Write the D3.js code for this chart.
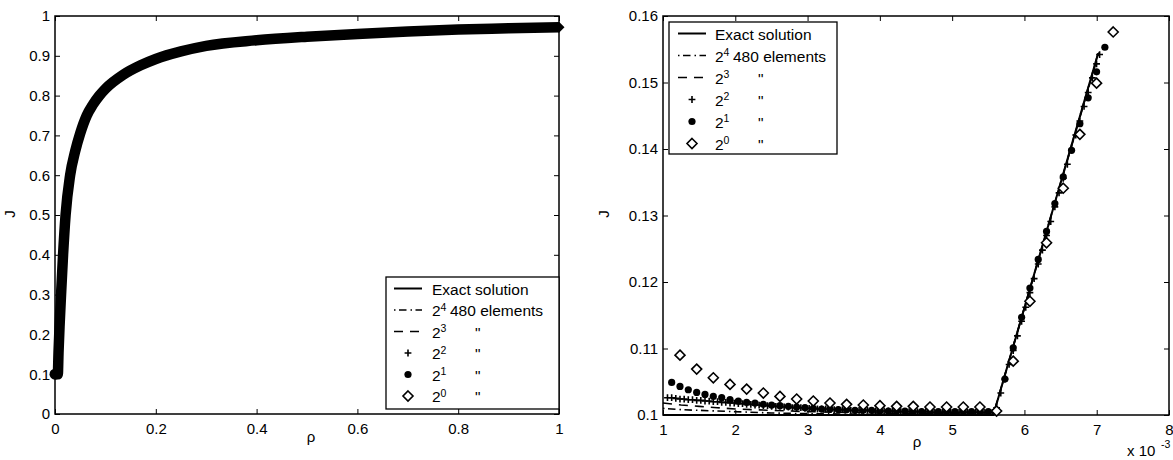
<!DOCTYPE html>
<html>
<head>
<meta charset="utf-8">
<script src="https://cdn.jsdelivr.net/npm/d3@7"></script>
<style>
body{margin:0;background:#fff;}
svg{display:block;font-family:"Liberation Sans",Arial,Helvetica,sans-serif;}
</style>
</head>
<body>
<svg id="chart" width="1173" height="460"></svg>
<script>
// ---------- left panel: rho 0..1 ----------
// all six series overlap here into one thick band, these are points on its centre line
var bandRho = [0, 0.0056, 0.007, 0.009, 0.012, 0.016, 0.021, 0.03, 0.04, 0.05, 0.063, 0.075, 0.088, 0.1, 0.135, 0.17, 0.2, 0.25, 0.3, 0.4, 0.5, 0.6, 0.7, 0.8, 0.9, 1.0];
var bandJ   = [0.1, 0.1, 0.155, 0.22, 0.3, 0.4, 0.5, 0.6, 0.66, 0.705, 0.75, 0.777, 0.8, 0.817, 0.852, 0.876, 0.892, 0.911, 0.925, 0.939, 0.948, 0.955, 0.961, 0.966, 0.969, 0.972];

// ---------- right panel: rho in units of 1e-3 ----------
var exactRho = [1, 5.57, 7.02];
var exactJ   = [0.1, 0.1, 0.1544];

// 2^4, 480 elements (dash-dot)
var e4Rho = [1.0, 1.25, 1.5, 2.0, 2.5, 3.0, 4.0, 5.0, 5.57, 7.02];
var e4J   = [0.1010, 0.1008, 0.1007, 0.1005, 0.1003, 0.1002, 0.1001, 0.1001, 0.1, 0.1544];

// 2^3 (dashed)
var e3Rho = [1.0, 1.25, 1.5, 1.75, 2.0, 2.5, 3.0, 3.5, 4.0, 4.5, 5.0, 5.57, 7.03];
var e3J   = [0.1018, 0.1015, 0.1013, 0.1011, 0.1009, 0.1007, 0.1005, 0.1004, 0.1003, 0.1002, 0.1002, 0.1001, 0.1545];

// 2^2 (plus)
var e2Rho = [1.062, 1.120, 1.177, 1.235, 1.293, 1.350, 1.408, 1.466, 1.523, 1.581, 1.639, 1.696, 1.754, 1.812, 1.869, 1.927, 1.985,
  2.042, 2.100, 2.157, 2.215, 2.273, 2.330, 2.388, 2.446, 2.503, 2.561, 2.618, 2.676, 2.734, 2.791, 2.849, 2.907, 2.964,
  3.022, 3.079, 3.137, 3.195, 3.252, 3.310, 3.368, 3.425, 3.483, 3.540, 3.598, 3.656, 3.713, 3.771, 3.829, 3.886, 3.944,
  4.001, 4.059, 4.117, 4.174, 4.232, 4.290, 4.347, 4.405, 4.462, 4.520, 4.578, 4.635, 4.693, 4.751, 4.808, 4.866, 4.923, 4.981,
  5.039, 5.096, 5.154, 5.212, 5.269, 5.327, 5.384, 5.442, 5.500, 5.557,
  5.615, 5.673, 5.730, 5.788, 5.845, 5.903, 5.961, 6.018, 6.076, 6.134, 6.191, 6.249, 6.306, 6.364, 6.421, 6.479,
  6.537, 6.594, 6.652, 6.710, 6.767, 6.825, 6.882, 6.940, 6.998, 7.040];
var e2J = [0.1026, 0.1026, 0.1025, 0.1024, 0.1024, 0.1023, 0.1023, 0.1022, 0.1022, 0.1021, 0.1021, 0.1020, 0.1020, 0.1019, 0.1019, 0.1018, 0.1018,
  0.1017, 0.1017, 0.1016, 0.1016, 0.1015, 0.1015, 0.1014, 0.1014, 0.1013, 0.1013, 0.1013, 0.1012, 0.1012, 0.1011, 0.1011, 0.1011, 0.1010,
  0.1010, 0.1010, 0.1009, 0.1009, 0.1009, 0.1009, 0.1008, 0.1008, 0.1008, 0.1008, 0.1007, 0.1007, 0.1007, 0.1007, 0.1007, 0.1006, 0.1006,
  0.1006, 0.1006, 0.1006, 0.1006, 0.1005, 0.1005, 0.1005, 0.1005, 0.1005, 0.1005, 0.1005, 0.1005, 0.1004, 0.1004, 0.1004, 0.1004, 0.1004, 0.1004,
  0.1004, 0.1004, 0.1004, 0.1004, 0.1004, 0.1004, 0.1004, 0.1004, 0.1004, 0.1004,
  0.1011, 0.1033, 0.1054, 0.1076, 0.1097, 0.1119, 0.1141, 0.1162, 0.1184, 0.1205, 0.1227, 0.1248, 0.1270, 0.1291, 0.1313, 0.1334,
  0.1356, 0.1377, 0.1399, 0.1421, 0.1442, 0.1464, 0.1485, 0.1507, 0.1528, 0.1542];

// 2^1 (filled circles)
var e1Rho = [1.120, 1.235, 1.350, 1.466, 1.581, 1.696, 1.812, 1.927, 2.042, 2.157, 2.273, 2.388, 2.503, 2.618, 2.734, 2.849, 2.964,
  3.079, 3.195, 3.310, 3.425, 3.540, 3.656, 3.771, 3.886, 4.001, 4.117, 4.232, 4.347, 4.462, 4.578, 4.693, 4.808, 4.923,
  5.039, 5.154, 5.269, 5.384, 5.500, 5.615, 5.730, 5.845, 5.961, 6.076, 6.191, 6.306, 6.421, 6.537, 6.652, 6.767, 6.882, 6.998, 7.113];
var e1J = [0.1049, 0.1043, 0.1038, 0.1034, 0.1031, 0.1028, 0.1026, 0.1023, 0.1021, 0.1019, 0.1018, 0.1016, 0.1015, 0.1014, 0.1013, 0.1012, 0.1011,
  0.1010, 0.1009, 0.1009, 0.1008, 0.1008, 0.1007, 0.1007, 0.1007, 0.1006, 0.1006, 0.1006, 0.1006, 0.1005, 0.1005, 0.1005, 0.1005, 0.1005,
  0.1005, 0.1005, 0.1005, 0.1005, 0.1005, 0.1006, 0.1054, 0.1101, 0.1147, 0.1191, 0.1234, 0.1276, 0.1318, 0.1358, 0.1398, 0.1438, 0.1477, 0.1516, 0.1553];

// 2^0 (open diamonds)
var e0Rho = [1.235, 1.466, 1.696, 1.927, 2.157, 2.388, 2.618, 2.849, 3.079, 3.310, 3.540, 3.771, 4.001, 4.232, 4.462, 4.693, 4.923, 5.154, 5.384,
  5.615, 5.845, 6.076, 6.306, 6.537, 6.767, 6.998, 7.228];
var e0J = [0.1090, 0.1069, 0.1056, 0.1046, 0.1039, 0.1033, 0.1028, 0.1024, 0.1021, 0.1018, 0.1016, 0.1015, 0.1014, 0.1013, 0.1013, 0.1012, 0.1012, 0.1012, 0.1012,
  0.1006, 0.1081, 0.1171, 0.1259, 0.1341, 0.1422, 0.1499, 0.1576];

// ticks
var leftXTicks = [0, 0.2, 0.4, 0.6, 0.8, 1];
var leftXLabels = ["0", "0.2", "0.4", "0.6", "0.8", "1"];
var leftYTicks = [0, 0.1, 0.2, 0.3, 0.4, 0.5, 0.6, 0.7, 0.8, 0.9, 1];
var leftYLabels = ["0", "0.1", "0.2", "0.3", "0.4", "0.5", "0.6", "0.7", "0.8", "0.9", "1"];
var rightXTicks = [1, 2, 3, 4, 5, 6, 7, 8];
var rightXLabels = ["1", "2", "3", "4", "5", "6", "7", "8"];
var rightYTicks = [0.1, 0.11, 0.12, 0.13, 0.14, 0.15, 0.16];
var rightYLabels = ["0.1", "0.11", "0.12", "0.13", "0.14", "0.15", "0.16"];

// legend
var legendExp = [null, "4", "3", "2", "1", "0"];
var legendText = ["Exact solution", "480 elements", "\"", "\"", "\"", "\""];
var legendStyle = ["solid", "dashdot", "dashed", "plus", "circle", "diamond"];


var svg = d3.select("#chart");
var font = 15;

function Panel(opts){
    var self = this;
    self.opts = opts;
    self.init();
};

Panel.prototype.init = function(){
    var self = this;
    var o = self.opts;
    self.g = svg.append("g");
    self.x = d3.scaleLinear().domain(o.xDomain).range([o.left, o.right]);
    self.y = d3.scaleLinear().domain(o.yDomain).range([o.bottom, o.top]);

    //ticks inside on all four sides
    var lab = function(labels){ return function(d, i){ return labels[i]; }; };
    self.g.append("g").attr("transform", "translate(0," + o.bottom + ")")
        .call(d3.axisBottom(self.x).tickValues(o.xTicks).tickFormat(lab(o.xLabels)).tickSizeInner(-5).tickSizeOuter(0).tickPadding(9));
    self.g.append("g").attr("transform", "translate(0," + o.top + ")")
        .call(d3.axisTop(self.x).tickValues(o.xTicks).tickFormat("").tickSizeInner(-5).tickSizeOuter(0));
    self.g.append("g").attr("transform", "translate(" + o.left + ",0)")
        .call(d3.axisLeft(self.y).tickValues(o.yTicks).tickFormat(lab(o.yLabels)).tickSizeInner(-5).tickSizeOuter(0).tickPadding(5));
    self.g.append("g").attr("transform", "translate(" + o.right + ",0)")
        .call(d3.axisRight(self.y).tickValues(o.yTicks).tickFormat("").tickSizeInner(-5).tickSizeOuter(0));
    self.g.selectAll("g").attr("font-family", null).attr("font-size", null);
    self.g.selectAll(".domain").remove();
    self.g.selectAll(".tick line").attr("stroke", "#000").attr("stroke-width", 1);
    self.g.selectAll(".tick text").attr("font-size", font).attr("fill", "#000");

    self.g.append("rect")
        .attr("x", o.left).attr("y", o.top)
        .attr("width", o.right - o.left).attr("height", o.bottom - o.top)
        .attr("fill", "none").attr("stroke", "#000").attr("stroke-width", 1.5);

    self.g.append("text").attr("x", o.xlabX).attr("y", o.xlabY)
        .attr("text-anchor", "middle").attr("font-size", font).text("ρ");
    self.g.append("text")
        .attr("transform", "translate(" + o.ylabX + "," + o.ylabY + ") rotate(-90)")
        .attr("text-anchor", "middle").attr("font-size", font).text("J");
};

Panel.prototype.line = function(xs, ys, dash, width){
    var self = this;
    var pts = xs.map(function(d, i){ return [d, ys[i]]; });
    self.g.append("path")
        .datum(pts)
        .attr("d", d3.line().x(function(d){ return self.x(d[0]); }).y(function(d){ return self.y(d[1]); }))
        .attr("fill", "none").attr("stroke", "#000")
        .attr("stroke-width", width || 1.5)
        .attr("stroke-dasharray", dash || null);
};

Panel.prototype.markers = function(xs, ys, type){
    var self = this;
    var pts = xs.map(function(d, i){ return [d, ys[i]]; });
    drawMarker(self.g.selectAll(".m-" + type).data(pts).enter(), type)
        .attr("class", "m-" + type)
        .attr("transform", function(d){ return "translate(" + self.x(d[0]) + "," + self.y(d[1]) + ")"; });
};

function drawMarker(sel, type){
    if (type == "circle"){
        return sel.append("circle").attr("r", 3.6).attr("fill", "#000");
    }
    if (type == "plus"){
        return sel.append("path").attr("d", "M-3.4,0H3.4M0,-3.4V3.4")
            .attr("stroke", "#000").attr("stroke-width", 1.6).attr("fill", "none");
    }
    return sel.append("path").attr("d", "M0,-5L5,0L0,5L-5,0Z")
        .attr("fill", "#fff").attr("stroke", "#000").attr("stroke-width", 1.6);
}

var dashes = {solid: null, dashdot: "1.5,3.5,7.5,4", dashed: "9,7"};

Panel.prototype.legend = function(){
    var self = this;
    var L = self.opts.legend;
    var lg = self.g.append("g");
    lg.append("rect").attr("x", L.x0).attr("y", L.y0)
        .attr("width", L.x1 - L.x0).attr("height", L.y1 - L.y0)
        .attr("fill", "#fff").attr("stroke", "#000").attr("stroke-width", 1.3);
    legendStyle.forEach(function(s, i){
        var cy = L.row0 + i * L.step;
        if (dashes.hasOwnProperty(s)){
            lg.append("line").attr("x1", L.lineX0).attr("x2", L.lineX1)
                .attr("y1", cy).attr("y2", cy)
                .attr("stroke", "#000").attr("stroke-width", s == "solid" ? 2 : 1.6)
                .attr("stroke-dasharray", dashes[s]);
        } else {
            drawMarker(lg.append("g").attr("transform", "translate(" + (L.lineX0 + L.lineX1) / 2 + "," + cy + ")"), s);
        }
        var base = cy + 6;
        if (legendExp[i] == null){
            lg.append("text").attr("x", L.textX).attr("y", base).attr("font-size", 15.5).text(legendText[i]);
        } else {
            lg.append("text").attr("x", L.textX).attr("y", base).attr("font-size", 15.5).text("2");
            lg.append("text").attr("x", L.textX + 8.5).attr("y", base - 5.5).attr("font-size", 10.5).text(legendExp[i]);
            var tx = i == 1 ? L.textX + 18 : L.textX + 43;
            lg.append("text").attr("x", tx).attr("y", base).attr("font-size", 15.5).text(legendText[i]);
        }
    });
};


// left panel
var left = new Panel({
    xDomain: [0, 1], yDomain: [0, 1],
    left: 55, right: 559, top: 16, bottom: 414,
    xTicks: leftXTicks, xLabels: leftXLabels, yTicks: leftYTicks, yLabels: leftYLabels,
    xlabX: 311, xlabY: 442, ylabX: 15, ylabY: 214,
    legend: {x0: 386, x1: 559, y0: 277, y1: 409, row0: 288.5, step: 21.5, lineX0: 394, lineX1: 422, textX: 432}
});
var bandPts = bandRho.map(function(d, i){ return [d, bandJ[i]]; });
left.g.append("path").datum(bandPts)
    .attr("d", d3.line().x(function(d){ return left.x(d[0]); }).y(function(d){ return left.y(d[1]); }).curve(d3.curveMonotoneX))
    .attr("fill", "none").attr("stroke", "#000").attr("stroke-width", 10.5).attr("stroke-linejoin", "round");
left.g.append("circle")
    .attr("cx", left.x(bandRho[0])).attr("cy", left.y(bandJ[0])).attr("r", 5.5);
left.g.append("path")
    .attr("transform", "translate(" + left.x(bandRho[bandRho.length - 1]) + "," + left.y(bandJ[bandJ.length - 1]) + ")")
    .attr("d", "M0,-5.5L5.5,0L0,5.5L-5.5,0Z").attr("fill", "#000");
left.legend();

// right panel
var right = new Panel({
    xDomain: [1, 8], yDomain: [0.1, 0.16],
    left: 663, right: 1169, top: 16, bottom: 415,
    xTicks: rightXTicks, xLabels: rightXLabels, yTicks: rightYTicks, yLabels: rightYLabels,
    xlabX: 917, xlabY: 447, ylabX: 609, ylabY: 214,
    legend: {x0: 669, x1: 837, y0: 22, y1: 154, row0: 33.5, step: 22, lineX0: 678, lineX1: 706, textX: 715}
});
right.line(exactRho, exactJ, null, 2);
right.line(e4Rho, e4J, dashes.dashdot, 1.6);
right.line(e3Rho, e3J, dashes.dashed, 1.6);
right.markers(e2Rho, e2J, "plus");
right.markers(e1Rho, e1J, "circle");
right.markers(e0Rho, e0J, "diamond");
right.legend();

// x 10^-3 multiplier
right.g.append("text").attr("x", 1127).attr("y", 456).attr("font-size", font).text("x 10");
right.g.append("text").attr("x", 1161).attr("y", 448).attr("font-size", 10.5).text("-3");
</script>
</body>
</html>
